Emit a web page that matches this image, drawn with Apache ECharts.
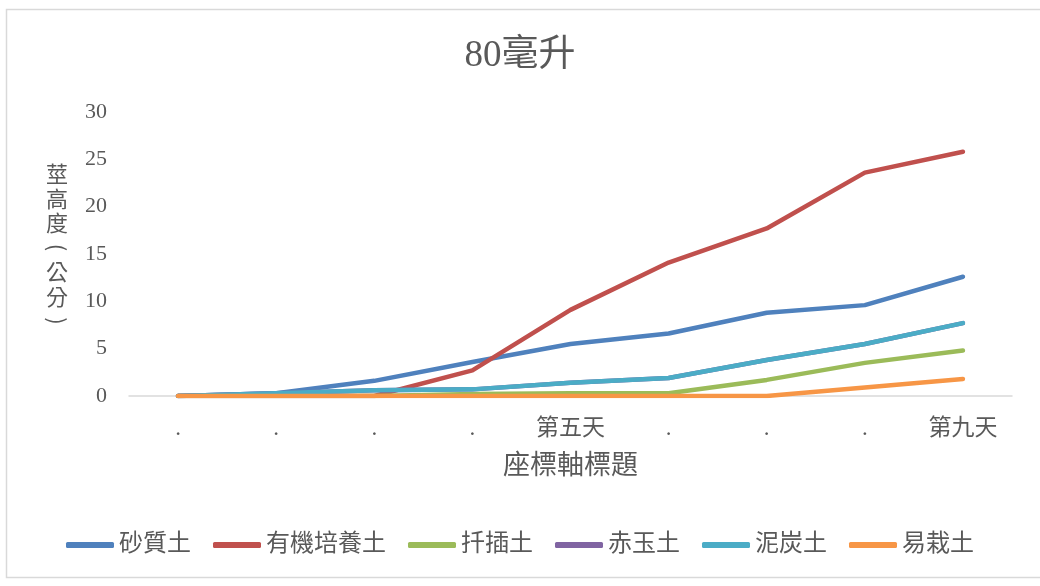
<!DOCTYPE html>
<html>
<head>
<meta charset="utf-8">
<script src="https://cdn.jsdelivr.net/npm/echarts@6/dist/echarts.min.js"></script>
<style>html,body{margin:0;padding:0;background:#fff}#c{width:1040px;height:586px}</style>
</head>
<body>
<div id="c"></div>
<script>
const categories = ['.', '.', '.', '.', '第五天', '.', '.', '.', '第九天'];
const seriesNames = ['砂質土', '有機培養土', '扦插土', '赤玉土', '泥炭土', '易栽土'];
const sandy = [0, 0.3, 1.6, 3.6, 5.5, 6.6, 8.8, 9.6, 12.6];
const organic = [0, 0, 0, 2.7, 9.1, 14.1, 17.7, 23.6, 25.8];
const cutting = [0, 0, 0, 0.2, 0.3, 0.3, 1.7, 3.5, 4.8];
const akadama = [0, 0.3, 0.6, 0.7, 1.4, 1.9, 3.8, 5.5, 7.7];
const peat = [0, 0.3, 0.6, 0.7, 1.4, 1.9, 3.8, 5.5, 7.7];
const easy = [0, 0, 0, 0, 0, 0, 0, 0.9, 1.8];
const yTicks = { min: 0, max: 30, interval: 5 };
const yAxisTitle = ['莖', '高', '度', '(', '公', '分', ')'];

const values = [sandy, organic, cutting, akadama, peat, easy];
const colors = ['#4F81BD', '#C0504D', '#9BBB59', '#8064A2', '#4BACC6', '#F79646'];
const FONT = "'Liberation Serif', 'Noto Sans CJK TC', serif";
const CJK = "'Noto Sans CJK TC', sans-serif";
const TXT = '#595959';

const yTitleEls = yAxisTitle.map((ch, i) => {
  const isParen = ch === '(' || ch === ')';
  return {
    type: 'text', x: 57, y: 174 + i * 24.5,
    rotation: isParen ? -Math.PI / 2 : 0,
    style: { text: ch, fontFamily: CJK, fontSize: 22, fill: TXT, align: 'center', verticalAlign: 'middle' }
  };
});

const chart = echarts.init(document.getElementById('c'));
chart.setOption({
  animation: false,
  backgroundColor: '#fff',
  title: {
    text: '80毫升', left: 'center', top: 33,
    textStyle: { fontFamily: FONT, fontSize: 37, fontWeight: 'normal', color: TXT }
  },
  legend: {
    data: seriesNames, left: 'center', top: 528,
    icon: 'roundRect', itemWidth: 48, itemHeight: 6, itemGap: 22,
    textStyle: { fontFamily: FONT, fontSize: 24, color: TXT }
  },
  grid: { left: 129, right: 28, top: 112, bottom: 190 },
  xAxis: {
    type: 'category', data: categories, boundaryGap: true,
    axisLine: { lineStyle: { color: '#d9d9d9', width: 1.5 } },
    axisTick: { show: false },
    axisLabel: { fontFamily: FONT, fontSize: 23, color: TXT, margin: 21, interval: 0 },
    name: '座標軸標題', nameLocation: 'middle', nameGap: 57,
    nameTextStyle: { fontFamily: FONT, fontSize: 27, color: TXT }
  },
  yAxis: {
    type: 'value', min: yTicks.min, max: yTicks.max, interval: yTicks.interval,
    axisLine: { show: false }, axisTick: { show: false }, splitLine: { show: false },
    axisLabel: { fontFamily: FONT, fontSize: 22, color: TXT, margin: 22 }
  },
  graphic: [
    { type: 'rect', shape: { x: 6.5, y: 9.5, width: 1040, height: 568 },
      style: { fill: 'none', stroke: '#d9d9d9', lineWidth: 1.5 }, silent: true, z: -1 }
  ].concat(yTitleEls),
  series: seriesNames.map((n, i) => ({
    name: n, type: 'line', data: values[i], symbol: 'none',
    lineStyle: { color: colors[i], width: 4.5, cap: 'round', join: 'round' },
    itemStyle: { color: colors[i] }
  }))
});
</script>
</body>
</html>
